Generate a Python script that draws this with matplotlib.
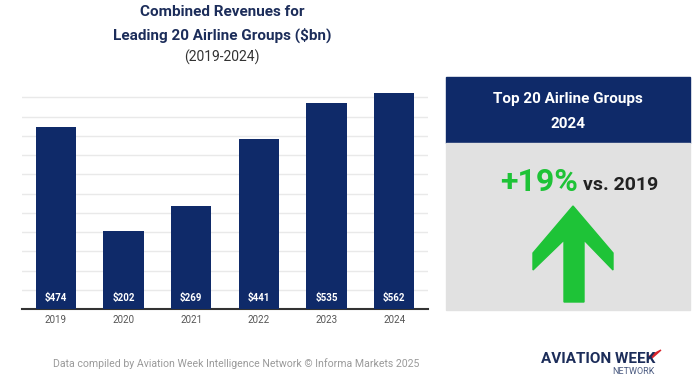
import matplotlib
matplotlib.use("Agg")
import matplotlib.pyplot as plt
from matplotlib.patches import Rectangle, Polygon

plt.rcParams['font.family'] = ['Roboto', 'DejaVu Sans']

years = ["2019", "2020", "2021", "2022", "2023", "2024"]
revenues = [474, 202, 269, 441, 535, 562]
value_labels = ["$474", "$202", "$269", "$441", "$535", "$562"]
grid_values = [50, 100, 150, 200, 250, 300, 350, 400, 450, 500, 550]

NAVY = "#0f2a69"
TITLE = "#1c2d5a"
GREEN = "#1ec337"

W, H = 700, 388
fig = plt.figure(figsize=(7, 3.88), dpi=100)

def fx(x): return x / W
def fy(y): return 1 - y / H

ax = fig.add_axes([fx(22), fy(309), fx(428) - fx(22), fy(82) - fy(309)])
x = list(range(len(years)))
ax.bar(x, revenues, width=0.6, color=NAVY, zorder=3)
for g in grid_values:
    ax.axhline(g, color="#e9e9e9", lw=1, zorder=1)
ax.set_xlim(-0.5, 5.5)
ax.set_ylim(0, 590)
for s in ["top", "right", "left"]:
    ax.spines[s].set_visible(False)
ax.spines["bottom"].set_color("#333333")
ax.spines["bottom"].set_linewidth(1.5)
ax.set_yticks([])
ax.set_xticks(x)
ax.set_xticklabels(years, fontsize=7, color="#555555")
ax.tick_params(axis="x", length=0, pad=4)
for xi, lab in zip(x, value_labels):
    ax.text(xi, 28, lab, ha="center", va="center", color="white",
            fontsize=7, fontweight="bold", zorder=4)

# Title
fig.text(fx(222), fy(12), "Combined Revenues for", ha="center", va="center",
         fontsize=11, fontweight="bold", color=TITLE)
fig.text(fx(222), fy(35), "Leading 20 Airline Groups ($bn)", ha="center", va="center",
         fontsize=11, fontweight="bold", color=TITLE)
fig.text(fx(222), fy(57), "(2019-2024)", ha="center", va="center",
         fontsize=10, color="#333333")

# Right panel
fig.patches.append(Rectangle((fx(446), fy(143)), fx(690) - fx(446), fy(77) - fy(143),
                             transform=fig.transFigure, color=NAVY, zorder=0))
fig.patches.append(Rectangle((fx(446), fy(310)), fx(690) - fx(446), fy(143) - fy(310),
                             transform=fig.transFigure, color="#e1e1e1", zorder=0))
fig.text(fx(568), fy(99), "Top 20 Airline Groups", ha="center", va="center",
         fontsize=11, fontweight="bold", color="white")
fig.text(fx(568), fy(124), "2024", ha="center", va="center",
         fontsize=11, fontweight="bold", color="white")
fig.text(fx(578), fy(182), "+19%", ha="right", va="center",
         fontsize=23, fontweight="bold", color=GREEN)
fig.text(fx(583), fy(185), "vs. 2019", ha="left", va="center",
         fontsize=14, fontweight="bold", color="#222222")

arrow_pts = [(564, 302), (564, 240), (533, 270), (533, 253), (573, 206),
             (613, 253), (613, 270), (584, 240), (584, 302)]
fig.patches.append(Polygon([(fx(a), fy(b)) for a, b in arrow_pts], closed=True,
                           transform=fig.transFigure, color=GREEN, zorder=1))

# Footer
fig.text(fx(236), fy(364), "Data compiled by Aviation Week Intelligence Network \u00a9 Informa Markets 2025",
         ha="center", va="center", fontsize=7.6, color="#9a9a9a")
fig.text(fx(655), fy(359), "AVIATION WEEK", ha="right", va="center",
         fontsize=11, fontweight="bold", color=TITLE)
fig.text(fx(655), fy(372), "NETWORK", ha="right", va="center",
         fontsize=6.5, color="#4a5a80")
fig.patches.append(Polygon([(fx(648), fy(357)), (fx(661), fy(350)), (fx(652), fy(358))],
                           closed=True, transform=fig.transFigure, color="#d8242b"))

fig.savefig("out.png", dpi=100)
